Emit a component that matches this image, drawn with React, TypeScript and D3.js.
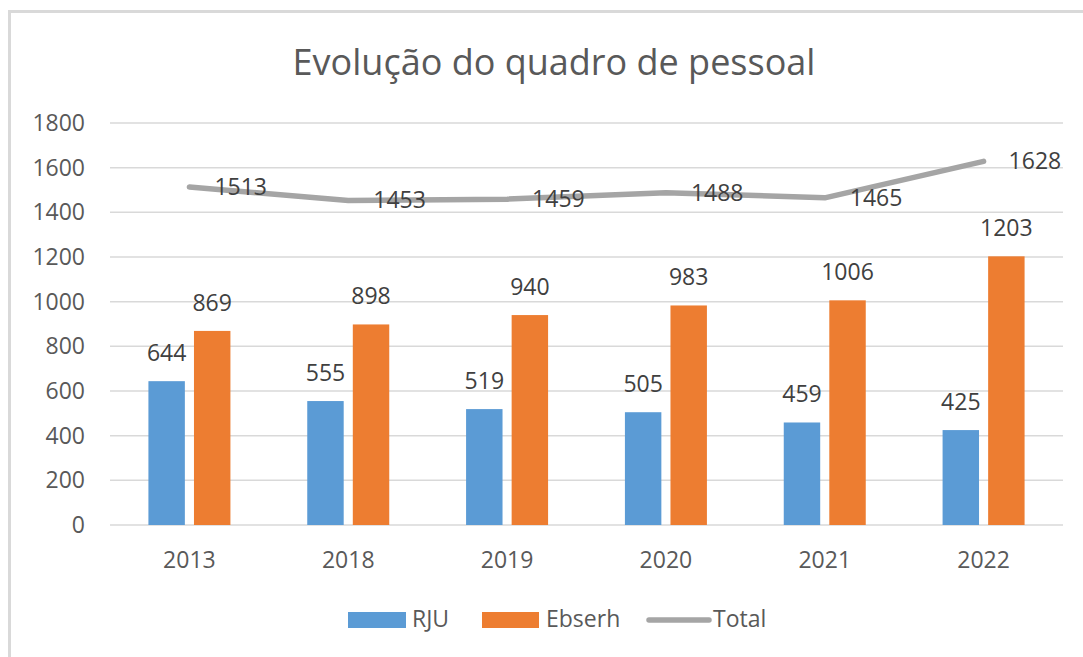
import React from 'react';
import * as d3 from 'd3';

const years = ['2013', '2018', '2019', '2020', '2021', '2022'];
const rju = [644, 555, 519, 505, 459, 425];
const ebserh = [869, 898, 940, 983, 1006, 1203];
const total = [1513, 1453, 1459, 1488, 1465, 1628];
const yTicks = [0, 200, 400, 600, 800, 1000, 1200, 1400, 1600, 1800];

const W = 1083;
const H = 657;
const FONT = "'Open Sans', 'Noto Sans', sans-serif";

const App = () => {
  const x = d3.scaleBand().domain(years).range([110, 1063]).padding(0);
  const y = d3.scaleLinear().domain([0, 1800]).range([525, 123]);

  // two bars per year, 82px wide group in the middle of each band
  const inner = d3.scaleBand<string>()
    .domain(['rju', 'ebserh'])
    .range([-41, 41])
    .paddingInner(0.2)
    .paddingOuter(0);

  const cx = (yr) => (x(yr) as number) + x.bandwidth() / 2;

  const line = d3.line<number>()
    .x((_, i) => cx(years[i]))
    .y((d) => y(d));

  const series = [
    { key: 'rju', values: rju, color: '#5b9bd5' },
    { key: 'ebserh', values: ebserh, color: '#ed7d31' },
  ];

  return (
    <svg width={W} height={H} style={{ position: 'absolute', left: 0, top: 0, display: 'block', background: '#fff' }}>
      {/* frame */}
      <rect x={9.5} y={11.5} width={W + 20} height={H + 20} fill="#fff" stroke="#d9d9d9" strokeWidth={3} />

      <text x={554} y={75} textAnchor="middle" fontFamily={FONT} fontSize={36} fill="#595959">
        Evolução do quadro de pessoal
      </text>

      {/* gridlines + y ticks */}
      {yTicks.map((t) => (
        <g key={t}>
          <line x1={110} x2={1063} y1={y(t)} y2={y(t)} stroke="#d9d9d9" strokeWidth={1.5} />
          <text x={85} y={y(t) + 8} textAnchor="end" fontFamily={FONT} fontSize={23} fill="#595959">
            {t}
          </text>
        </g>
      ))}

      {/* bars */}
      {series.map((s) => (
        <g key={s.key}>
          {s.values.map((v, i) => {
            const bx = cx(years[i]) + (inner(s.key) as number);
            return (
              <g key={i}>
                <rect x={bx} y={y(v)} width={inner.bandwidth()} height={y(0) - y(v)} fill={s.color} />
                <text x={bx + inner.bandwidth() / 2} y={y(v) - 20} textAnchor="middle" fontFamily={FONT} fontSize={23} fill="#404040">
                  {v}
                </text>
              </g>
            );
          })}
        </g>
      ))}

      {/* total line */}
      <path d={line(total) || ''} fill="none" stroke="#a5a5a5" strokeWidth={5.5} strokeLinejoin="round" strokeLinecap="round" />
      {total.map((v, i) => (
        <text key={i} x={cx(years[i]) + 25} y={y(v) + 8} fontFamily={FONT} fontSize={23} fill="#404040">
          {v}
        </text>
      ))}

      {/* category labels */}
      {years.map((yr) => (
        <text key={yr} x={cx(yr)} y={568} textAnchor="middle" fontFamily={FONT} fontSize={23} fill="#595959">
          {yr}
        </text>
      ))}

      {/* legend */}
      <rect x={348} y={612} width={58} height={16} fill="#5b9bd5" />
      <text x={412} y={627} fontFamily={FONT} fontSize={23} fill="#595959">RJU</text>
      <rect x={482} y={612} width={57} height={16} fill="#ed7d31" />
      <text x={546} y={627} fontFamily={FONT} fontSize={23} fill="#595959">Ebserh</text>
      <line x1={649} x2={709} y1={620} y2={620} stroke="#a5a5a5" strokeWidth={5.5} strokeLinecap="round" />
      <text x={713} y={627} fontFamily={FONT} fontSize={23} fill="#595959">Total</text>
    </svg>
  );
};

export default App;
